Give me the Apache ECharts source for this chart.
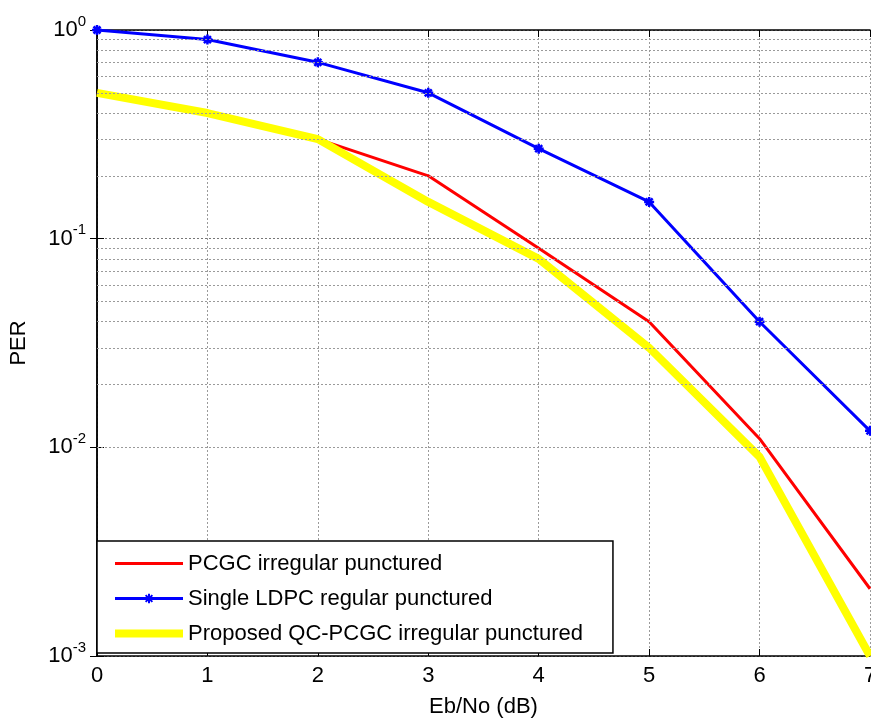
<!DOCTYPE html>
<html>
<head>
    <meta charset="utf-8">
    <title>PER</title>
    <script src="https://cdn.jsdelivr.net/npm/echarts@6/dist/echarts.min.js"></script>
    <style>
        html, body { margin: 0; padding: 0; background: #fff; }
        #main { width: 871px; height: 718px; }
    </style>
</head>
<body>
<div id="main"></div>
<script>
    // Eb/No values (dB)
    var ebno = [0, 1, 2, 3, 4, 5, 6, 7];
    // PER per curve
    var pcgcIrr = [0.5, 0.4, 0.3, 0.2, 0.09, 0.04, 0.011, 0.0021];
    var ldpcReg = [1.0, 0.9, 0.7, 0.5, 0.27, 0.15, 0.04, 0.012];
    var qcPcgc = [0.5, 0.4, 0.3, 0.15, 0.08, 0.03, 0.009, 0.001];
    var names = ['PCGC irregular punctured', 'Single LDPC regular punctured', 'Proposed QC-PCGC irregular punctured'];
    // minor log grid lines (2..9 in each decade)
    var decades = [0.001, 0.01, 0.1];
    var mults = [2, 3, 4, 5, 6, 7, 8, 9];

    function pairs(ys) {
        return ebno.map(function (x, i) { return [x, ys[i]]; });
    }

    var minorLines = [];
    decades.forEach(function (d) {
        mults.forEach(function (m) { minorLines.push({yAxis: +(m * d).toPrecision(3)}); });
    });

    var gridStyle = {color: '#9a9a9a', width: 1, type: [2, 2]};
    var font = 'Liberation Sans, Arial, sans-serif';

    var chart = echarts.init(document.getElementById('main'), null, {renderer: 'canvas'});
    var option = {
        animation: false,
        backgroundColor: '#fff',
        grid: {left: 97, right: 1, top: 30, bottom: 62, containLabel: false, outerBoundsMode: 'none'},
        xAxis: [{
            type: 'value', min: 0, max: 7, interval: 1,
            name: 'Eb/No (dB)', nameLocation: 'middle', nameGap: 40,
            nameTextStyle: {fontSize: 22, color: '#000', fontFamily: font},
            axisLine: {lineStyle: {color: '#000', width: 1.5}},
            axisTick: {inside: true, length: 7, lineStyle: {color: '#000'}},
            axisLabel: {fontSize: 22, color: '#000', fontFamily: font, margin: 9},
            splitLine: {show: true, lineStyle: gridStyle}
        }, {
            type: 'value', min: 0, max: 7, interval: 1, position: 'top',
            axisLine: {show: true, lineStyle: {color: '#000', width: 1.5}},
            axisTick: {show: true, inside: true, length: 7, lineStyle: {color: '#000'}},
            axisLabel: {show: false}, splitLine: {show: false}
        }],
        yAxis: [{
            type: 'log', logBase: 10, min: 0.001, max: 1,
            name: 'PER', nameLocation: 'middle', nameGap: 67, nameRotate: 90,
            nameTextStyle: {fontSize: 22, color: '#000', fontFamily: font},
            axisLine: {show: true, lineStyle: {color: '#000', width: 1.5}},
            axisTick: {show: true, inside: true, length: 7, lineStyle: {color: '#000'}},
            axisLabel: {
                margin: 11,
                formatter: function (v) {
                    var e = Math.round(Math.log10(v));
                    return '{b|10}{s|' + e + '}';
                },
                rich: {
                    b: {fontSize: 22, color: '#000', fontFamily: font, lineHeight: 32, verticalAlign: 'middle'},
                    s: {fontSize: 15, color: '#000', fontFamily: font, lineHeight: 15, verticalAlign: 'top'}
                }
            },
            splitLine: {show: true, lineStyle: {color: '#777', width: 1, type: [2, 2]}}
        }, {
            type: 'log', logBase: 10, min: 0.001, max: 1, position: 'right',
            axisLine: {show: true, lineStyle: {color: '#000', width: 1.5}},
            axisTick: {show: true, inside: true, length: 7, lineStyle: {color: '#000'}},
            axisLabel: {show: false}, splitLine: {show: false}
        }],
        legend: {
            orient: 'vertical', left: 97, top: 541,
            padding: [10, 30, 7, 14],
            itemWidth: 68, itemHeight: 12, itemGap: 10,
            backgroundColor: '#fff', borderColor: '#000', borderWidth: 1.5, borderRadius: 0,
            textStyle: {fontSize: 22, color: '#000', fontFamily: font, lineHeight: 25},
            data: [
                {name: names[0], itemStyle: {opacity: 0}, lineStyle: {width: 3}},
                {name: names[1], lineStyle: {width: 3}},
                {name: names[2], itemStyle: {opacity: 0}, lineStyle: {width: 8}}
            ]
        },
        series: [{
            name: names[0], type: 'line', data: pairs(pcgcIrr),
            symbol: 'none', lineStyle: {color: '#ff0000', width: 3}, itemStyle: {color: '#ff0000'},
            markLine: {
                silent: true, symbol: 'none', label: {show: false},
                lineStyle: gridStyle, animation: false,
                data: minorLines
            },
            z: 2
        }, {
            name: names[1], type: 'line', data: pairs(ldpcReg),
            symbol: 'path://M5,0L5,10M0,5L10,5M1.5,1.5L8.5,8.5M8.5,1.5L1.5,8.5', symbolSize: 10,
            lineStyle: {color: '#0000ff', width: 3},
            itemStyle: {color: '#0000ff', borderColor: '#0000ff', borderWidth: 2.5},
            z: 3
        }, {
            name: names[2], type: 'line', data: pairs(qcPcgc),
            symbol: 'none', lineStyle: {color: '#ffff00', width: 8}, itemStyle: {color: '#ffff00'},
            z: 4
        }]
    };
    chart.setOption(option);
</script>
</body>
</html>
